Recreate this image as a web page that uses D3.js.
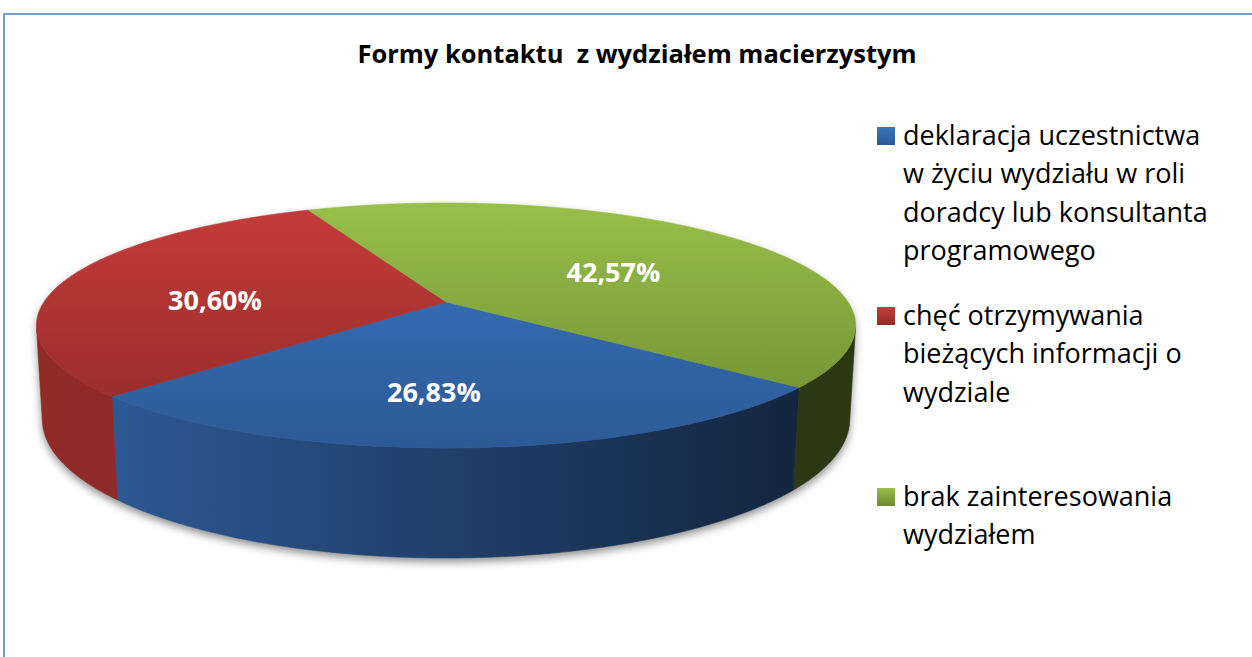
<!DOCTYPE html>
<html><head><meta charset="utf-8">
<script src="https://cdn.jsdelivr.net/npm/d3@7"></script>
<style>body{margin:0;background:#fff;} svg{display:block;}</style>
</head><body>
<script>
// ---- data ----
const title = "Formy kontaktu  z wydziałem macierzystym";
const categories = [
  "deklaracja uczestnictwa w życiu wydziału w roli doradcy lub konsultanta programowego",
  "chęć otrzymywania bieżących informacji o wydziale",
  "brak zainteresowania wydziałem"
];
const legendLines = [
  ["deklaracja uczestnictwa", "w życiu wydziału w roli", "doradcy lub konsultanta", "programowego"],
  ["chęć otrzymywania", "bieżących informacji o", "wydziale"],
  ["brak zainteresowania", "wydziałem"]
];
const values = [26.83, 30.60, 42.57];
const valueLabels = ["26,83%", "30,60%", "42,57%"];

// ---- styles / layout ----
const W = 1252, H = 657;
const topColors = [["#3a74c0", "#2c5a96"], ["#c43c3b", "#922a28"], ["#98bf49", "#6c8a31"]];
const wallColors = [["#2f5e9e", "#14253f"], ["#902b28", "#7e2320"], ["#34421a", "#2c3713"]];
const labelNudge = [[-23, 7], [8, 12], [-18, 11]];

const svg = d3.select("body").append("svg").attr("width", W).attr("height", H);
const defs = svg.append("defs");

// border
svg.append("rect").attr("x", 4).attr("y", 14).attr("width", W + 20).attr("height", H + 20)
  .attr("fill", "#fff").attr("stroke", "#4a7ebb").attr("stroke-width", 1.5);

// title
svg.append("text").attr("x", 637).attr("y", 63).attr("text-anchor", "middle")
  .attr("font-family", "'Open Sans', sans-serif").attr("font-weight", 700).attr("font-size", 25.5)
  .attr("fill", "#000").style("white-space", "pre").text(title);

// ---- perspective projection of a 3D pie ----
const cx = 446, cy = 302;
const R = 0.2006, f = 2004, elev = 17.07 * Math.PI / 180, depth = 0.0483;
const sinA = Math.sin(elev), cosA = Math.cos(elev);
function proj(theta, t, Y) {
  const X = t * R * Math.sin(theta), Z = -t * R * Math.cos(theta);
  const d = 1 - (Y * sinA + Z * cosA);
  return [cx + f * X / d, cy - f * (Y * cosA - Z * sinA) / d];
}
const rot = 129.5 * Math.PI / 180;
const arcs = d3.pie().sort(null).startAngle(rot).endAngle(rot + 2 * Math.PI)(values);

function arcPts(a0, a1, Y) {
  const n = Math.max(2, Math.ceil(Math.abs(a1 - a0) / (Math.PI / 360)));
  return d3.range(n + 1).map(i => proj(a0 + (a1 - a0) * i / n, 1, Y));
}
const thV = Math.acos(-R / cosA); // visible wall range [thV, 2pi - thV]

function wallRange(a0, a1) {
  for (let k = -1; k <= 2; k++) {
    const v0 = thV + k * 2 * Math.PI, v1 = 2 * Math.PI - thV + k * 2 * Math.PI;
    const s = Math.max(a0, v0), e = Math.min(a1, v1);
    if (e > s) return [s, e];
  }
  return null;
}

// shadow
const flt = defs.append("filter").attr("id", "sh").attr("x", "-10%").attr("y", "-10%").attr("width", "120%").attr("height", "130%");
flt.append("feGaussianBlur").attr("stdDeviation", 4);
const line = d3.line();
const full = arcPts(0, 2 * Math.PI, 0);
const bot = arcPts(thV, 2 * Math.PI - thV, -depth);
const topFront = arcPts(thV, 2 * Math.PI - thV, 0);
const gSh = svg.append("g").attr("filter", "url(#sh)").attr("transform", "translate(0,4)");
gSh.append("path").attr("d", line(full) + "Z").attr("fill", "rgba(0,0,0,0.35)");
gSh.append("path").attr("d", line(topFront.concat(bot.slice().reverse())) + "Z").attr("fill", "rgba(0,0,0,0.45)");

// gradients
arcs.forEach((a, i) => {
  const gw = defs.append("linearGradient").attr("id", "w" + i).attr("gradientUnits", "userSpaceOnUse")
    .attr("x1", 40).attr("x2", 800).attr("y1", 0).attr("y2", 0);
  gw.append("stop").attr("offset", 0).attr("stop-color", wallColors[i][0]);
  gw.append("stop").attr("offset", 1).attr("stop-color", wallColors[i][1]);
  const gt = defs.append("linearGradient").attr("id", "t" + i).attr("gradientUnits", "userSpaceOnUse")
    .attr("x1", 0).attr("x2", 0).attr("y1", 205).attr("y2", 448);
  gt.append("stop").attr("offset", 0).attr("stop-color", topColors[i][0]);
  gt.append("stop").attr("offset", 1).attr("stop-color", topColors[i][1]);
});

// walls
const gPie = svg.append("g");
arcs.forEach((a, i) => {
  const r = wallRange(a.startAngle, a.endAngle);
  if (!r) return;
  const t = arcPts(r[0], r[1], 0), b = arcPts(r[0], r[1], -depth);
  gPie.append("path").attr("d", line(t.concat(b.reverse())) + "Z")
    .attr("fill", `url(#w${i})`).attr("stroke", `url(#w${i})`).attr("stroke-width", 0.6);
});
// top faces
arcs.forEach((a, i) => {
  const pts = [proj(0, 0, 0)].concat(arcPts(a.startAngle, a.endAngle, 0));
  gPie.append("path").attr("d", line(pts) + "Z")
    .attr("fill", `url(#t${i})`).attr("stroke", `url(#t${i})`).attr("stroke-width", 0.6);
});
// value labels
arcs.forEach((a, i) => {
  const p = proj((a.startAngle + a.endAngle) / 2, 0.62, 0);
  svg.append("text").attr("x", p[0] + labelNudge[i][0]).attr("y", p[1] + labelNudge[i][1] + 10)
    .attr("text-anchor", "middle").attr("font-family", "'Open Sans', sans-serif")
    .attr("font-weight", 700).attr("font-size", 27).attr("fill", "#fff").text(valueLabels[i]);
});

// legend
const legTop = [145, 325, 506];
const leg = svg.append("g").attr("font-family", "'Open Sans', sans-serif").attr("font-size", 27).attr("fill", "#000");
categories.forEach((c, i) => {
  const gg = defs.append("linearGradient").attr("id", "l" + i).attr("x1", 0).attr("x2", 0).attr("y1", 0).attr("y2", 1);
  gg.append("stop").attr("offset", 0).attr("stop-color", topColors[i][0]);
  gg.append("stop").attr("offset", 1).attr("stop-color", topColors[i][1]);
  leg.append("rect").attr("x", 877).attr("y", legTop[i] - 18).attr("width", 18).attr("height", 18)
    .attr("fill", `url(#l${i})`);
  legendLines[i].forEach((ln, j) => {
    leg.append("text").attr("x", 903).attr("y", legTop[i] + j * 38.3).text(ln);
  });
});
</script>
</body></html>
